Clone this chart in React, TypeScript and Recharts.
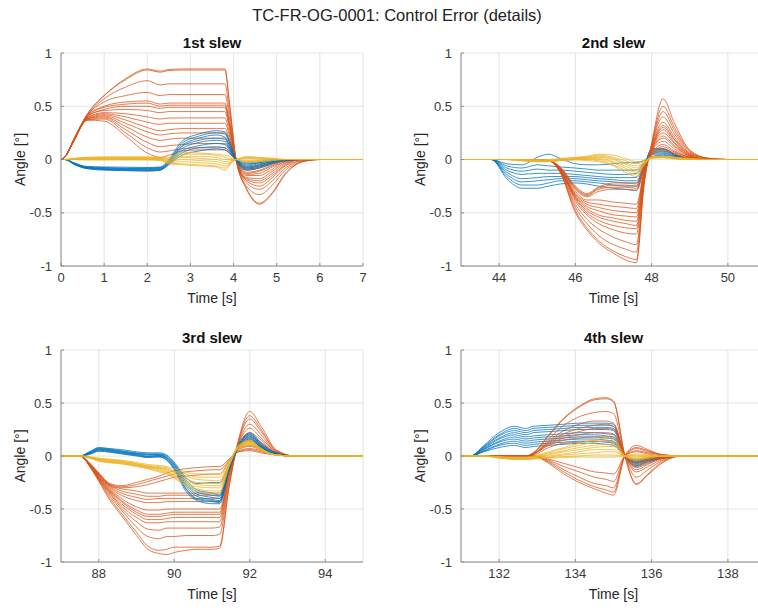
import React from "react";
import { LineChart, Line, XAxis, YAxis, CartesianGrid, Label } from "recharts";

const FONT = "'Liberation Sans', Arial, Helvetica, sans-serif";
const ORANGE = "#D95319";
const BLUE = "#0072BD";
const YELLOW = "#EDB120";
const AXIS = "#8c8c8c";
const Y_TICKS = [-1, -0.5, 0, 0.5, 1];

// ---- 1st slew ----
const SLEW1_T = [0, 0.1, 0.3, 0.6, 1.0, 1.5, 2.0, 2.3, 2.5, 2.8, 3.2, 3.6, 3.8, 3.9, 4.05, 4.3, 4.6, 4.9, 5.2, 5.6, 6, 7];
const SLEW1_ORANGE = [
  [0, .03, .19, .42, .6, .76, .85, .83, .845, .85, .85, .85, .85, .55, .02, -.28, -.42, -.32, -.14, -.02, 0, 0],
  [0, .03, .19, .42, .6, .75, .84, .82, .835, .84, .84, .84, .84, .54, .02, -.27, -.41, -.31, -.13, -.02, 0, 0],
  [0, .03, .19, .41, .57, .68, .74, .70, .71, .71, .71, .71, .71, .46, .02, -.25, -.33, -.24, -.1, -.02, 0, 0],
  [0, .03, .19, .41, .54, .60, .63, .60, .61, .61, .61, .61, .61, .40, .01, -.22, -.28, -.2, -.08, -.01, 0, 0],
  [0, .03, .19, .41, .50, .54, .55, .52, .53, .53, .53, .53, .53, .35, .01, -.2, -.25, -.17, -.06, -.01, 0, 0],
  [0, .03, .19, .40, .49, .52, .53, .50, .51, .51, .51, .51, .51, .34, .01, -.19, -.22, -.15, -.05, 0, 0, 0],
  [0, .03, .19, .40, .47, .50, .50, .48, .49, .49, .49, .49, .49, .32, .01, -.18, -.2, -.13, -.04, 0, 0, 0],
  [0, .03, .18, .40, .46, .47, .46, .44, .45, .45, .45, .45, .45, .3, .01, -.17, -.18, -.11, -.03, 0, 0, 0],
  [0, .03, .18, .39, .44, .43, .40, .38, .39, .39, .39, .39, .39, .26, .01, -.15, -.15, -.09, -.02, 0, 0, 0],
  [0, .03, .18, .39, .43, .40, .35, .33, .34, .34, .34, .34, .34, .23, .01, -.14, -.13, -.07, -.02, 0, 0, 0],
  [0, .03, .18, .38, .42, .37, .30, .27, .28, .29, .29, .29, .29, .2, .01, -.13, -.11, -.06, -.01, 0, 0, 0],
  [0, .03, .18, .38, .41, .34, .26, .23, .24, .25, .25, .25, .25, .17, .01, -.12, -.1, -.05, -.01, 0, 0, 0],
  [0, .03, .18, .38, .40, .31, .21, .18, .19, .2, .2, .2, .2, .14, .01, -.1, -.08, -.04, -.01, 0, 0, 0],
  [0, .03, .18, .37, .39, .28, .16, .12, .13, .14, .15, .15, .15, .1, .01, -.09, -.07, -.03, 0, 0, 0, 0],
  [0, .03, .18, .37, .38, .25, .11, .07, .08, .1, .11, .11, .11, .08, .01, -.08, -.06, -.03, 0, 0, 0, 0],
  [0, .03, .17, .37, .36, .22, .06, .02, .04, .08, .09, .09, .09, .06, .01, -.07, -.05, -.02, 0, 0, 0, 0],
];
const SLEW1_BLUE = [
  [0, 0, -.03, -.065, -.07, -.072, -.075, -.07, .0, .17, .24, .27, .26, .18, .0, -.1, -.08, -.04, -.01, 0, 0, 0],
  [0, 0, -.035, -.07, -.075, -.08, -.08, -.075, -.01, .15, .22, .25, .24, .16, .0, -.09, -.07, -.03, -.01, 0, 0, 0],
  [0, 0, -.035, -.072, -.08, -.085, -.085, -.08, -.02, .13, .2, .23, .21, .14, .0, -.08, -.06, -.03, 0, 0, 0, 0],
  [0, 0, -.04, -.075, -.085, -.09, -.09, -.085, -.03, .12, .18, .2, .19, .12, .0, -.07, -.05, -.02, 0, 0, 0, 0],
  [0, 0, -.04, -.078, -.09, -.095, -.095, -.09, -.03, .1, .16, .18, .17, .11, .0, -.06, -.04, -.02, 0, 0, 0, 0],
  [0, 0, -.04, -.08, -.09, -.1, -.1, -.095, -.04, .08, .13, .15, .14, .09, .0, -.05, -.03, -.01, 0, 0, 0, 0],
  [0, 0, -.045, -.085, -.095, -.1, -.105, -.1, -.04, .06, .11, .12, .11, .07, .0, -.04, -.03, -.01, 0, 0, 0, 0],
  [0, 0, -.045, -.085, -.1, -.105, -.11, -.1, -.05, .04, .08, .1, .09, .06, .0, -.03, -.02, 0, 0, 0, 0, 0],
];
const SLEW1_YELLOW = [
  [0, 0, .01, .02, .025, .025, .025, .02, .02, .07, .06, .05, .04, .03, 0, .03, .02, .01, 0, 0, 0, 0],
  [0, 0, .01, .018, .02, .02, .02, .015, .01, .05, .05, .04, .02, .01, 0, .02, .015, .01, 0, 0, 0, 0],
  [0, 0, .008, .015, .015, .015, .015, .01, .0, .03, .03, .02, .0, .0, 0, .015, .01, 0, 0, 0, 0, 0],
  [0, 0, .006, .01, .012, .012, .012, .008, -.01, .02, .01, .0, -.02, -.015, 0, .01, .005, 0, 0, 0, 0, 0],
  [0, 0, .004, .008, .008, .008, .008, .005, -.02, .0, -.01, -.02, -.04, -.03, 0, -.01, -.005, 0, 0, 0, 0, 0],
  [0, 0, .002, .005, .005, .005, .005, .002, -.03, -.02, -.03, -.04, -.06, -.04, 0, -.02, -.01, 0, 0, 0, 0, 0],
  [0, 0, 0, .0, .0, .0, .0, -.005, -.035, -.04, -.05, -.06, -.08, -.05, 0, -.02, -.015, -.005, 0, 0, 0, 0],
  [0, 0, -.002, -.005, -.005, -.005, -.005, -.01, -.04, -.05, -.06, -.07, -.1, -.06, 0, -.03, -.02, -.01, 0, 0, 0, 0],
];

// ---- 2nd slew ----
const SLEW2_T = [43, 43.8, 44.2, 44.6, 45.0, 45.3, 45.6, 46.0, 46.3, 46.6, 47.0, 47.3, 47.6, 47.8, 48.0, 48.3, 48.6, 49.0, 49.5, 50, 51];
const SLEW2_ORANGE = [
  [0, 0, 0, 0, 0, -.01, -.12, -.5, -.66, -.78, -.88, -.94, -.97, -.25, .15, .57, .34, .09, .01, 0, 0],
  [0, 0, 0, 0, 0, -.01, -.12, -.48, -.64, -.76, -.86, -.91, -.94, -.23, .14, .5, .3, .08, .01, 0, 0],
  [0, 0, 0, 0, 0, -.01, -.11, -.45, -.6, -.71, -.8, -.84, -.87, -.21, .13, .45, .27, .07, .01, 0, 0],
  [0, 0, 0, 0, 0, -.01, -.11, -.42, -.56, -.65, -.73, -.77, -.8, -.2, .12, .4, .24, .06, .01, 0, 0],
  [0, 0, 0, 0, 0, -.01, -.1, -.39, -.52, -.6, -.66, -.69, -.7, -.18, .11, .35, .21, .05, .01, 0, 0],
  [0, 0, 0, 0, 0, -.01, -.1, -.37, -.5, -.57, -.62, -.64, -.65, -.17, .1, .32, .19, .05, 0, 0, 0],
  [0, 0, 0, 0, 0, -.01, -.1, -.36, -.48, -.54, -.58, -.6, -.62, -.16, .1, .3, .18, .04, 0, 0, 0],
  [0, 0, 0, 0, 0, -.01, -.1, -.35, -.46, -.52, -.55, -.57, -.58, -.15, .09, .28, .16, .04, 0, 0, 0],
  [0, 0, 0, 0, 0, -.01, -.09, -.34, -.44, -.48, -.52, -.53, -.54, -.14, .09, .25, .15, .03, 0, 0, 0],
  [0, 0, 0, 0, 0, -.01, -.09, -.33, -.42, -.45, -.48, -.49, -.5, -.13, .08, .22, .13, .03, 0, 0, 0],
  [0, 0, 0, 0, 0, -.01, -.09, -.32, -.4, -.42, -.44, -.45, -.46, -.12, .08, .2, .12, .03, 0, 0, 0],
  [0, 0, 0, 0, 0, -.01, -.08, -.3, -.38, -.38, -.4, -.41, -.42, -.11, .07, .17, .1, .02, 0, 0, 0],
  [0, 0, 0, 0, 0, -.01, -.08, -.28, -.35, -.3, -.28, -.28, -.29, -.08, .06, .14, .08, .02, 0, 0, 0],
  [0, 0, 0, 0, 0, -.01, -.08, -.27, -.34, -.28, -.26, -.26, -.27, -.07, .05, .12, .07, .02, 0, 0, 0],
  [0, 0, 0, 0, 0, -.01, -.07, -.26, -.33, -.27, -.24, -.24, -.25, -.06, .05, .1, .06, .01, 0, 0, 0],
  [0, 0, 0, 0, 0, -.01, -.07, -.25, -.32, -.26, -.22, -.22, -.23, -.05, .04, .08, .05, .01, 0, 0, 0],
];
const SLEW2_BLUE = [
  [0, 0, -.04, -.05, .02, .05, .01, -.04, -.05, -.05, -.04, -.03, -.03, -.01, .03, .04, .02, .01, 0, 0, 0],
  [0, 0, -.06, -.08, -.05, -.06, -.07, -.08, -.09, -.1, -.1, -.1, -.1, -.03, .05, .05, .02, .01, 0, 0, 0],
  [0, 0, -.08, -.11, -.09, -.1, -.1, -.11, -.12, -.13, -.14, -.14, -.13, -.04, .06, .06, .03, .01, 0, 0, 0],
  [0, 0, -.1, -.14, -.13, -.13, -.13, -.14, -.15, -.16, -.17, -.17, -.17, -.05, .07, .07, .03, .01, 0, 0, 0],
  [0, 0, -.12, -.18, -.17, -.16, -.16, -.16, -.17, -.18, -.19, -.2, -.2, -.06, .08, .08, .04, .01, 0, 0, 0],
  [0, 0, -.14, -.21, -.2, -.19, -.18, -.18, -.19, -.2, -.21, -.22, -.22, -.07, .09, .09, .04, .01, 0, 0, 0],
  [0, 0, -.16, -.24, -.24, -.22, -.2, -.2, -.21, -.22, -.24, -.25, -.25, -.08, .1, .1, .05, .01, 0, 0, 0],
  [0, 0, -.18, -.27, -.27, -.25, -.23, -.22, -.23, -.25, -.27, -.28, -.29, -.1, .1, .1, .05, .01, 0, 0, 0],
];
const SLEW2_YELLOW = [
  [0, 0, 0, 0, 0, 0, .01, .02, .03, .05, .04, .01, -.02, -.01, .02, .03, .02, .01, 0, 0, 0],
  [0, 0, 0, 0, -.005, -.005, .005, .015, .025, .04, .02, -.01, -.04, -.02, .02, .03, .02, .005, 0, 0, 0],
  [0, 0, 0, -.005, -.01, -.01, 0, .01, .02, .03, .01, -.03, -.06, -.03, .02, .03, .015, .005, 0, 0, 0],
  [0, 0, 0, -.005, -.01, -.01, 0, .01, .015, .02, 0, -.04, -.08, -.03, .02, .025, .01, 0, 0, 0, 0],
  [0, 0, 0, -.01, -.015, -.015, -.005, .005, .01, .01, -.02, -.06, -.1, -.04, .02, .025, .01, 0, 0, 0, 0],
  [0, 0, 0, -.01, -.015, -.015, -.005, 0, .005, 0, -.03, -.08, -.12, -.04, .015, .02, .01, 0, 0, 0, 0],
  [0, 0, 0, -.01, -.02, -.02, -.01, 0, 0, -.01, -.05, -.1, -.14, -.05, .015, .02, .01, 0, 0, 0, 0],
  [0, 0, 0, -.01, -.02, -.02, -.01, -.005, -.01, -.02, -.06, -.12, -.16, -.05, .01, .015, .005, 0, 0, 0, 0],
];

// ---- 3rd slew ----
const SLEW3_T = [87, 87.5, 87.8, 88.0, 88.3, 88.6, 89.0, 89.3, 89.6, 89.8, 90.0, 90.3, 90.6, 91.0, 91.2, 91.45, 91.7, 92.0, 92.3, 92.7, 93.2, 95];
const SLEW3_ORANGE = [
  [0, 0, -.12, -.24, -.42, -.56, -.75, -.88, -.92, -.93, -.91, -.89, -.88, -.88, -.87, -.3, .15, .42, .28, .06, 0, 0],
  [0, 0, -.12, -.23, -.4, -.54, -.72, -.85, -.89, -.88, -.86, -.86, -.86, -.86, -.85, -.29, .14, .38, .25, .05, 0, 0],
  [0, 0, -.11, -.22, -.38, -.51, -.67, -.76, -.78, -.76, -.76, -.75, -.75, -.75, -.74, -.25, .13, .35, .23, .05, 0, 0],
  [0, 0, -.11, -.22, -.36, -.49, -.62, -.69, -.7, -.68, -.68, -.68, -.68, -.68, -.67, -.22, .12, .3, .2, .04, 0, 0],
  [0, 0, -.11, -.21, -.35, -.47, -.58, -.63, -.63, -.62, -.62, -.62, -.62, -.62, -.62, -.2, .11, .26, .17, .04, 0, 0],
  [0, 0, -.11, -.21, -.34, -.45, -.55, -.6, -.6, -.59, -.58, -.58, -.58, -.58, -.58, -.18, .1, .22, .15, .03, 0, 0],
  [0, 0, -.1, -.2, -.33, -.43, -.53, -.57, -.57, -.56, -.55, -.55, -.55, -.55, -.55, -.17, .1, .2, .13, .03, 0, 0],
  [0, 0, -.1, -.2, -.32, -.42, -.51, -.55, -.55, -.54, -.53, -.53, -.53, -.53, -.53, -.16, .09, .18, .12, .03, 0, 0],
  [0, 0, -.1, -.19, -.31, -.4, -.48, -.51, -.51, -.5, -.5, -.5, -.5, -.5, -.5, -.15, .09, .16, .1, .02, 0, 0],
  [0, 0, -.1, -.19, -.3, -.37, -.42, -.44, -.44, -.43, -.43, -.43, -.43, -.43, -.43, -.13, .08, .14, .09, .02, 0, 0],
  [0, 0, -.1, -.18, -.29, -.35, -.39, -.41, -.4, -.4, -.4, -.4, -.4, -.4, -.4, -.12, .07, .12, .08, .02, 0, 0],
  [0, 0, -.09, -.18, -.28, -.33, -.36, -.38, -.38, -.37, -.37, -.37, -.37, -.37, -.37, -.11, .07, .1, .07, .01, 0, 0],
  [0, 0, -.09, -.17, -.28, -.31, -.33, -.35, -.35, -.35, -.35, -.35, -.35, -.35, -.35, -.1, .06, .09, .06, .01, 0, 0],
  [0, 0, -.09, -.17, -.27, -.3, -.29, -.27, -.24, -.22, -.2, -.19, -.18, -.17, -.17, -.05, .05, .07, .05, .01, 0, 0],
  [0, 0, -.09, -.16, -.27, -.29, -.27, -.24, -.21, -.19, -.17, -.15, -.14, -.13, -.13, -.04, .04, .06, .04, .01, 0, 0],
  [0, 0, -.08, -.16, -.26, -.28, -.25, -.22, -.19, -.16, -.14, -.12, -.11, -.1, -.1, -.03, .04, .05, .03, .01, 0, 0],
];
const SLEW3_BLUE = [
  [0, 0, .05, .08, .07, .06, .04, .03, .03, .01, -.06, -.2, -.26, -.25, -.25, -.08, .1, .22, .12, .03, 0, 0],
  [0, 0, .045, .075, .065, .05, .03, .02, .02, 0, -.07, -.22, -.32, -.35, -.37, -.11, .1, .21, .11, .03, 0, 0],
  [0, 0, .04, .07, .06, .045, .025, .015, .015, -.01, -.08, -.24, -.34, -.37, -.38, -.12, .1, .2, .1, .02, 0, 0],
  [0, 0, .035, .065, .055, .04, .02, .01, .01, -.015, -.09, -.26, -.36, -.39, -.4, -.12, .1, .19, .1, .02, 0, 0],
  [0, 0, .03, .06, .05, .035, .015, 0, .005, -.02, -.1, -.28, -.38, -.41, -.42, -.13, .09, .18, .09, .02, 0, 0],
  [0, 0, .03, .055, .045, .03, .01, -.005, 0, -.03, -.11, -.3, -.4, -.42, -.43, -.13, .09, .17, .09, .02, 0, 0],
  [0, 0, .025, .05, .04, .025, .005, -.01, -.005, -.035, -.12, -.31, -.41, -.43, -.44, -.14, .08, .16, .08, .02, 0, 0],
  [0, 0, .02, .045, .035, .02, 0, -.015, -.01, -.04, -.13, -.33, -.42, -.45, -.45, -.14, .08, .15, .08, .01, 0, 0],
];
const SLEW3_YELLOW = [
  [0, 0, -.01, -.02, -.03, -.04, -.06, -.08, -.09, -.1, -.12, -.15, -.17, -.17, -.17, -.05, .07, .1, .05, .01, 0, 0],
  [0, 0, -.012, -.025, -.035, -.045, -.07, -.09, -.1, -.11, -.14, -.17, -.2, -.2, -.2, -.06, .07, .11, .05, .01, 0, 0],
  [0, 0, -.014, -.03, -.04, -.05, -.075, -.095, -.11, -.12, -.15, -.19, -.22, -.23, -.23, -.07, .08, .12, .06, .01, 0, 0],
  [0, 0, -.016, -.032, -.045, -.055, -.08, -.1, -.115, -.13, -.16, -.21, -.25, -.26, -.26, -.08, .08, .12, .06, .01, 0, 0],
  [0, 0, -.018, -.035, -.05, -.06, -.085, -.105, -.12, -.14, -.18, -.23, -.27, -.28, -.28, -.09, .09, .13, .06, .01, 0, 0],
  [0, 0, -.02, -.04, -.055, -.065, -.09, -.11, -.13, -.15, -.19, -.25, -.29, -.3, -.3, -.09, .09, .14, .07, .01, 0, 0],
  [0, 0, -.022, -.045, -.06, -.07, -.095, -.115, -.14, -.16, -.2, -.27, -.31, -.33, -.33, -.1, .1, .14, .07, .01, 0, 0],
  [0, 0, -.025, -.05, -.065, -.075, -.1, -.12, -.15, -.17, -.21, -.28, -.33, -.35, -.35, -.1, .1, .15, .07, .01, 0, 0],
];

// ---- 4th slew ----
const SLEW4_T = [131, 131.25, 131.6, 132.0, 132.4, 132.7, 132.9, 133.3, 133.7, 134.1, 134.5, 134.8, 135.0, 135.3, 135.6, 135.9, 136.3, 136.8, 139];
const SLEW4_BLUE = [
  [0, 0, .1, .22, .28, .26, .28, .29, .3, .31, .31, .31, .3, 0, -.1, -.06, -.02, 0, 0],
  [0, 0, .09, .2, .26, .24, .26, .27, .28, .29, .29, .29, .28, 0, -.09, -.05, -.02, 0, 0],
  [0, 0, .085, .19, .24, .22, .24, .25, .26, .27, .27, .27, .26, 0, -.08, -.05, -.02, 0, 0],
  [0, 0, .08, .17, .22, .2, .22, .23, .24, .25, .25, .25, .24, 0, -.07, -.04, -.01, 0, 0],
  [0, 0, .07, .16, .2, .18, .19, .2, .21, .22, .22, .21, .2, 0, -.06, -.04, -.01, 0, 0],
  [0, 0, .065, .14, .18, .16, .17, .18, .19, .2, .2, .19, .18, 0, -.06, -.03, -.01, 0, 0],
  [0, 0, .06, .13, .16, .14, .15, .16, .17, .18, .18, .17, .16, 0, -.05, -.03, -.01, 0, 0],
  [0, 0, .05, .11, .14, .12, .13, .14, .15, .16, .16, .15, .14, 0, -.04, -.02, -.01, 0, 0],
  [0, 0, .045, .1, .12, .1, .11, .12, .13, .14, .14, .13, .12, 0, -.04, -.02, 0, 0, 0],
  [0, 0, .04, .08, .1, .08, .09, .1, .11, .12, .12, .11, .1, 0, -.03, -.02, 0, 0, 0],
];
const SLEW4_ORANGE = [
  [0, 0, 0, 0, 0, 0, .03, .2, .36, .47, .54, .55, .52, 0, -.27, -.18, -.06, 0, 0],
  [0, 0, 0, 0, 0, 0, .03, .19, .35, .46, .53, .54, .51, 0, -.26, -.17, -.05, 0, 0],
  [0, 0, 0, 0, 0, 0, .03, .16, .29, .37, .41, .42, .4, 0, -.2, -.13, -.04, 0, 0],
  [0, 0, 0, 0, 0, 0, .02, .14, .24, .3, .33, .33, .31, 0, -.15, -.1, -.03, 0, 0],
  [0, 0, 0, 0, 0, 0, .02, .13, .21, .26, .29, .3, .28, 0, -.13, -.08, -.02, 0, 0],
  [0, 0, 0, 0, 0, 0, .02, .12, .19, .23, .26, .26, .25, 0, -.11, -.07, -.02, 0, 0],
  [0, 0, 0, 0, 0, 0, .02, .11, .17, .2, .22, .22, .21, 0, -.09, -.05, -.01, 0, 0],
  [0, 0, 0, 0, 0, 0, .02, .1, .15, .17, .18, .18, .17, 0, -.07, -.04, -.01, 0, 0],
  [0, 0, 0, 0, 0, 0, .01, .08, .12, .13, .14, .14, .13, 0, -.05, -.03, -.01, 0, 0],
  [0, 0, 0, 0, 0, 0, 0, -.03, -.07, -.11, -.15, -.16, -.17, 0, .04, .02, 0, 0, 0],
  [0, 0, 0, 0, 0, 0, 0, -.04, -.1, -.15, -.2, -.22, -.24, 0, .05, .03, .01, 0, 0],
  [0, 0, 0, 0, 0, 0, 0, -.05, -.13, -.2, -.26, -.28, -.3, 0, .07, .04, .01, 0, 0],
  [0, 0, 0, 0, 0, 0, 0, -.06, -.15, -.23, -.29, -.32, -.34, 0, .08, .05, .01, 0, 0],
  [0, 0, 0, 0, 0, 0, 0, -.07, -.17, -.25, -.31, -.35, -.37, 0, .1, .06, .01, 0, 0],
];
const SLEW4_YELLOW = [
  [0, 0, 0, -.005, -.01, -.01, 0, .04, .08, .12, .15, .17, .17, 0, -.04, -.02, 0, 0, 0],
  [0, 0, 0, -.008, -.015, -.015, -.005, .03, .07, .1, .13, .14, .14, 0, -.03, -.02, 0, 0, 0],
  [0, 0, 0, -.01, -.02, -.02, -.01, .02, .05, .08, .1, .11, .11, 0, -.03, -.01, 0, 0, 0],
  [0, 0, 0, -.012, -.022, -.022, -.012, .01, .04, .06, .08, .09, .09, 0, -.02, -.01, 0, 0, 0],
  [0, 0, 0, -.014, -.025, -.025, -.015, 0, .02, .04, .06, .06, .06, 0, -.01, 0, 0, 0, 0],
  [0, 0, 0, -.016, -.028, -.028, -.02, -.01, .01, .02, .03, .04, .04, 0, 0, 0, 0, 0, 0],
  [0, 0, 0, -.018, -.03, -.03, -.025, -.015, -.005, 0, .01, .01, .01, 0, .01, 0, 0, 0, 0],
  [0, 0, 0, -.02, -.032, -.032, -.03, -.02, -.015, -.01, -.01, -.01, -.01, 0, .02, .01, 0, 0, 0],
];

const toPoints = (time: number[], vals: number[]) => time.map((t, i) => ({ t, v: vals[i] }));

type PanelProps = {
  title: string;
  time: number[];
  groups: { color: string; rows: number[][] }[];
  domain: [number, number];
  ticks: number[];
  x: number;
  y: number;
  w: number;
  h: number;
  titleY: number;
};

const Y_GUTTER = 82;
const X_GUTTER = 64;
const TOP = 10;

function Panel({ title, time, groups, domain, ticks, x, y, w, h, titleY }: PanelProps) {
  const tickStyle = { fill: "#3a3a3a", fontSize: 13, fontFamily: FONT };
  return (
    <>
      <div style={{ position: "absolute", left: x, top: titleY - 9, width: w, textAlign: "center", fontFamily: FONT, fontSize: 15, fontWeight: "bold", lineHeight: "18px", color: "#111" }}>
        {title}
      </div>
      <div style={{ position: "absolute", left: x - Y_GUTTER, top: y - TOP }}>
        <LineChart width={Y_GUTTER + w + 5} height={TOP + h + X_GUTTER} margin={{ top: TOP, right: 5, bottom: 0, left: 0 }}>
          <CartesianGrid stroke="#e4e4e4" />
          <XAxis dataKey="t" type="number" domain={domain} ticks={ticks} interval={0} allowDataOverflow
            height={X_GUTTER} stroke={AXIS} tickSize={-3} tickMargin={10} tick={tickStyle}>
            <Label value="Time [s]" position="center" style={{ fontSize: 14, fontFamily: FONT, fill: "#262626" }} />
          </XAxis>
          <YAxis type="number" domain={[-1, 1]} ticks={Y_TICKS} interval={0} allowDataOverflow
            width={Y_GUTTER} stroke={AXIS} tickSize={-3} tickMargin={12} tick={tickStyle}>
            <Label value="Angle [°]" position="center" angle={-90} style={{ fontSize: 14, fontFamily: FONT, fill: "#262626", textAnchor: "middle" }} />
          </YAxis>
          <XAxis xAxisId="top" orientation="top" type="number" domain={domain} ticks={ticks} interval={0} allowDataOverflow
            height={0} stroke={AXIS} tickSize={-3} tick={false} />
          <YAxis yAxisId="right" orientation="right" type="number" domain={[-1, 1]} ticks={Y_TICKS} interval={0} allowDataOverflow
            width={0} stroke={AXIS} tickSize={-3} tick={false} />
          {groups.map((g, gi) =>
            g.rows.map((row, i) => (
              <Line key={`${gi}-${i}`} data={toPoints(time, row)} dataKey="v" type="monotone" stroke={g.color}
                strokeWidth={0.9} strokeOpacity={0.85} dot={false} activeDot={false} isAnimationActive={false} />
            ))
          )}
        </LineChart>
      </div>
    </>
  );
}

export default function App() {
  return (
    <div style={{ position: "absolute", left: 0, top: 0, width: 758, height: 608, overflow: "hidden", background: "#fff" }}>
      <div style={{ position: "absolute", left: 147, top: 5, width: 500, textAlign: "center", fontFamily: FONT, fontSize: 16.5, lineHeight: "20px", color: "#222" }}>
        TC-FR-OG-0001: Control Error (details)
      </div>
      <Panel title="1st slew" time={SLEW1_T} domain={[0, 7]} ticks={[0, 1, 2, 3, 4, 5, 6, 7]}
        groups={[{ color: ORANGE, rows: SLEW1_ORANGE }, { color: BLUE, rows: SLEW1_BLUE }, { color: YELLOW, rows: SLEW1_YELLOW }]}
        x={61} y={53} w={302} h={213} titleY={43} />
      <Panel title="2nd slew" time={SLEW2_T} domain={[43, 51]} ticks={[44, 46, 48, 50]}
        groups={[{ color: BLUE, rows: SLEW2_BLUE }, { color: ORANGE, rows: SLEW2_ORANGE }, { color: YELLOW, rows: SLEW2_YELLOW }]}
        x={461} y={53} w={305} h={213} titleY={43} />
      <Panel title="3rd slew" time={SLEW3_T} domain={[87, 95]} ticks={[88, 90, 92, 94]}
        groups={[{ color: ORANGE, rows: SLEW3_ORANGE }, { color: BLUE, rows: SLEW3_BLUE }, { color: YELLOW, rows: SLEW3_YELLOW }]}
        x={61} y={350} w={302} h={212} titleY={338} />
      <Panel title="4th slew" time={SLEW4_T} domain={[131, 139]} ticks={[132, 134, 136, 138]}
        groups={[{ color: BLUE, rows: SLEW4_BLUE }, { color: ORANGE, rows: SLEW4_ORANGE }, { color: YELLOW, rows: SLEW4_YELLOW }]}
        x={461} y={350} w={305} h={212} titleY={338} />
    </div>
  );
}
